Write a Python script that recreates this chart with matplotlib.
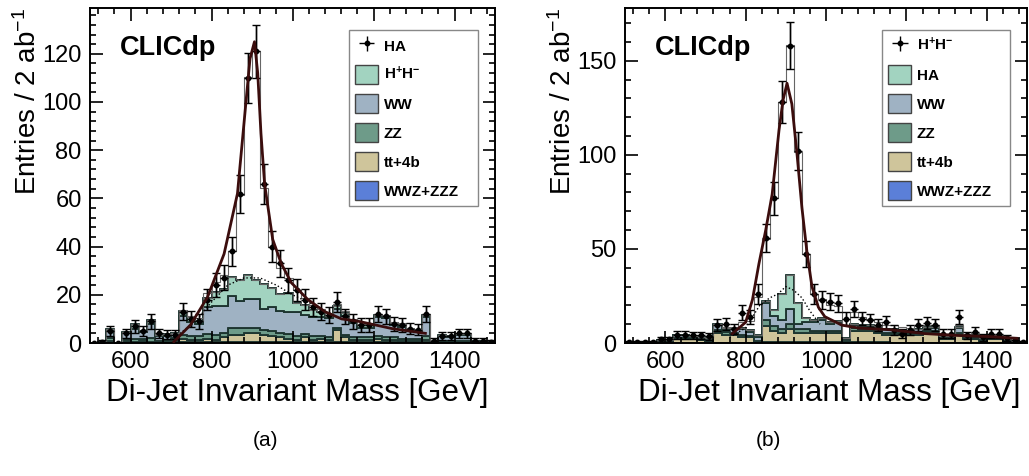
import matplotlib
matplotlib.use('Agg')
import matplotlib.pyplot as plt
import numpy as np
from matplotlib.patches import Patch

plt.rcParams['font.family'] = ['Liberation Sans', 'DejaVu Sans']
plt.rcParams['mathtext.default'] = 'regular'

# 20 GeV bins from 500 to 1500
edges = np.arange(500, 1501, 20)

# ---- panel (a): HA signal ----
a_data = [0, 0.5, 5, 0, 4, 7, 5, 9, 4, 3.5, 3.5, 13, 10, 9, 18, 24, 27, 38, 62, 110,
          121, 66, 40, 33, 26, 22, 18, 15, 13, 11.5, 17, 11, 9, 7.5, 7.5, 12, 11, 8, 7.5, 6,
          5.5, 12, 1, 3, 3, 4, 4, 1, 1, 0.5]
a_sig = [0, 0, 0, 0, 0, 0, 0, 0, 0, 0, 0, 0.3, 0.5, 1, 2, 4, 6, 11, 35, 82,
         95, 40, 17, 11, 6, 5, 3, 2, 1.5, 1, 1, 0.8, 0.6, 0.5, 0.5, 0.4, 0.3, 0.3, 0.3, 0.2,
         0.2, 0.2, 0.1, 0.1, 0.1, 0.1, 0.1, 0, 0, 0]
a_wwz = [0, 0, 0.2, 0, 0.2, 0.2, 0.2, 0.2, 0.1, 0.1, 0.2, 0.3, 0.3, 0.3, 0.3, 0.3, 0.3, 0.3, 0.3, 0.3,
         0.3, 0.3, 0.3, 0.3, 0.3, 0.3, 0.3, 0.3, 0.3, 0.3, 0.3, 0.3, 0.3, 0.3, 0.3, 0.3, 0.3, 0.3, 0.3, 0.3,
         0.3, 0.3, 0, 0.1, 0.1, 0.1, 0.1, 0, 0, 0]
a_tt = [0, 0, 0.5, 0, 0.5, 0.3, 0.5, 0.3, 0.2, 0.5, 0.8, 1.5, 1, 1, 1.5, 1, 2, 3, 3, 4,
        4, 3, 2.5, 2, 1.5, 1, 2, 1, 1.5, 1, 5, 2, 1, 1, 1, 1.5, 1, 1, 0.5, 0.5,
        0.5, 1, 0, 0.3, 0.3, 0.3, 0.3, 0, 0, 0]
a_zz = [0, 0, 1.5, 0, 0.8, 1, 0.8, 1.5, 0.5, 0.5, 1, 1.5, 1.5, 1.5, 2, 2, 2, 3, 3, 2,
        2, 2, 2, 2, 2, 1.5, 1.5, 1.5, 1, 1, 1, 1, 1, 1, 1, 1, 1, 1, 1, 1,
        1, 1.5, 0.3, 0.5, 0.5, 0.5, 0.5, 0.2, 0.2, 0.1]
a_ww = [0, 0.5, 3, 0, 2.5, 4.5, 3, 6, 2, 2, 2, 8, 6, 5, 11, 12, 11, 13, 11, 12,
        12, 9, 10, 9, 9, 10, 8, 8, 8, 8, 8, 8, 6, 4, 4, 8, 8, 5, 5, 3.5,
        3, 8, 0.5, 2, 1.5, 2.5, 2.5, 0.6, 0.6, 0.4]
a_hh = [0, 0, 0.5, 0, 0.5, 2, 0.5, 1.5, 0.5, 0.5, 0.3, 2, 2, 1.5, 4, 6, 7, 8, 9, 10,
        8, 10, 8, 7, 8, 4, 4, 3, 2, 1, 1, 1, 1, 1, 1, 1, 1, 1, 1, 0.7,
        0.7, 1, 0.2, 0.3, 0.5, 0.5, 0.5, 0.2, 0.2, 0.1]
a_fit_x = [707, 748, 790, 831, 864, 885, 895, 906, 914, 922, 931, 951, 972, 997, 1038, 1080,
           1121, 1163, 1245, 1328]
a_fit_y = [0.5, 7.5, 19, 37, 62, 100, 118, 125, 112, 87, 66, 43, 33, 25, 18, 13, 10, 9, 6, 4]
a_bkg_x = [715, 760, 800, 840, 880, 920, 960, 1000, 1050]
a_bkg_y = [3, 9, 17, 24, 27, 27, 24, 20, 16]

# ---- panel (b): H+H- signal ----
b_data = [0.5, 0.5, 0.5, 0.5, 2, 2, 4.5, 4.5, 4, 4, 3.5, 9.5, 10, 7.5, 16, 14, 26, 56, 77, 128,
          158, 102, 47.5, 26, 23, 22, 21, 13, 18, 13, 12, 9.5, 11, 7, 5, 7, 9.5, 10.5, 9.5, 5,
          5, 14, 4, 6, 3, 5, 5, 2.5, 1.5, 0.5]
b_sig = [0, 0, 0, 0, 0, 0, 0, 0, 0, 0, 0, 0, 0.5, 1, 3, 5, 20, 33, 60, 102,
         122, 80, 34, 14, 10, 9, 8, 7, 6, 4, 3, 2.5, 2, 2, 1.5, 1.5, 1.5, 1.2, 1, 1,
         1, 1, 0.8, 0.8, 0.6, 0.6, 0.5, 0.4, 0.3, 0.2]
b_wwz = [0, 0, 0, 0, 0, 0, 0.1, 0.1, 0.1, 0.1, 0.1, 0.2, 0.2, 0.2, 0.2, 0.2, 0.2, 0.3, 0.3, 0.3,
         0.3, 0.3, 0.3, 0.3, 0.3, 0.3, 0.3, 0.3, 0.3, 0.3, 0.3, 0.3, 0.3, 0.2, 0.2, 0.2, 0.2, 0.2, 0.2, 0.2,
         0.2, 0.2, 0.2, 0.1, 0.1, 0.1, 0.1, 0.1, 0, 0]
b_tt = [0.3, 0.3, 0.3, 0.3, 1, 0.8, 2, 2, 2, 1.5, 1, 5, 4, 4, 3, 3, 0.5, 9, 6, 5,
        7, 5, 5, 5, 5, 5, 5, 0.5, 6, 6, 6, 5, 4, 4, 4, 4, 4, 5, 5, 2,
        2, 4, 2, 2, 1, 2, 2, 1, 0.5, 0.2]
b_zz = [0, 0, 0, 0, 0.3, 0.3, 0.5, 0.5, 0.5, 0.5, 0.3, 1.5, 1.5, 1, 1, 0.5, 0.5, 3, 3, 2,
        3, 2, 2, 1, 1, 1, 1, 0.5, 1.5, 1, 1, 1, 1, 1, 1, 1, 1, 1, 1, 0.5,
        0.5, 1, 0.5, 0.5, 0.5, 0.5, 0.5, 0.3, 0.2, 0.1]
b_ww = [0.2, 0.2, 0.2, 0.2, 0.5, 0.5, 1.5, 1.5, 1, 1, 1, 3, 2, 2, 3, 2, 2, 9, 5, 5,
        8, 3, 4, 5, 6, 4, 5, 1, 2, 2, 2, 2, 2, 2, 1.5, 1, 2, 2, 2, 1,
        1, 3, 1, 1.5, 1, 1, 1, 0.5, 0.5, 0.2]
b_ha = [0, 0, 0, 0, 0, 0, 0.2, 0.3, 0.2, 0.2, 0.1, 0.5, 0.5, 0.5, 1, 1, 1, 1, 3, 14,
        18, 11, 2, 1, 1, 1, 0.5, 0.5, 0.5, 0.5, 0.5, 0.5, 0.3, 0.3, 0.3, 0.3, 0.3, 0.3, 0.3, 0.2,
        0.2, 0.3, 0.2, 0.2, 0.2, 0.2, 0.2, 0.1, 0.1, 0.1]
b_fit_x = [767, 800, 817, 833, 850, 866, 883, 893, 903, 915, 928, 940, 953, 965, 981, 997,
           1039, 1080, 1162, 1245, 1327, 1409, 1475]
b_fit_y = [5, 11, 23, 42, 60, 79, 113, 129, 138, 127, 100, 72, 47.5, 30, 19, 14, 9.5, 8, 7,
           5, 4, 3.4, 2.5]
b_bkg_x = [760, 800, 835, 860, 880, 900, 920, 940, 960, 985]
b_bkg_y = [3, 8, 20, 24, 26, 30, 28, 24, 17, 10]

c_mint = '#a2d3c0'
c_ww = '#9fb2c3'
c_zz = '#6e9b89'
c_tt = '#cfc59b'
c_wwz = '#5b7fd8'
c_edge = '#1d3530'


def draw_panel(ax, data, sig, layers, fit_x, fit_y, bkg_x, bkg_y, sig_name, hist_name, ymax,
               ymajor, yminor):
    base = np.zeros(len(edges) - 1)
    # stack from the bottom: WWZ+ZZZ, tt+4b, ZZ, WW, other Higgs
    for vals, col in layers:
        top = base + np.array(vals)
        ax.stairs(top, edges, baseline=base, fill=True, facecolor=col,
                  edgecolor=c_edge, linewidth=1.1)
        ax.stairs(top, edges, baseline=base, fill=False, color=c_edge, linewidth=1.1)
        base = top
    ax.stairs(base + np.array(sig), edges, baseline=base, fill=False, color='#666666', linewidth=0.8)

    centers = 0.5 * (edges[:-1] + edges[1:])
    d = np.array(data)
    err = np.sqrt(d)
    h = ax.errorbar(centers, d, xerr=10, yerr=err, fmt='o', ms=3.2, color='black',
                    ecolor='black', elinewidth=1.0, capsize=0, zorder=5)
    ax.errorbar(centers, d, yerr=err, fmt='none', ecolor='black', elinewidth=1.0,
                capsize=3, capthick=1.0, zorder=5)
    ax.plot(fit_x, fit_y, color='#3b0d0d', lw=2.0, zorder=6)
    ax.plot(bkg_x, bkg_y, color='black', lw=1.0, ls=':', zorder=4)

    ax.set_xlim(500, 1500)
    ax.set_ylim(0, ymax)
    ax.set_xticks([600, 800, 1000, 1200, 1400])
    ax.set_xticks(np.arange(520, 1500, 40), minor=True)
    ax.set_yticks(np.arange(0, ymax, ymajor))
    ax.set_yticks(np.arange(0, ymax, yminor), minor=True)
    ax.tick_params(which='both', direction='in', top=True, right=True, width=1.2,
                   labelsize=17, pad=6)
    ax.tick_params(which='major', length=9)
    ax.tick_params(which='minor', length=4.5)
    for s in ax.spines.values():
        s.set_linewidth(1.4)
    # ROOT style: titles pushed to the end of the axis
    ax.set_xlabel('Di-Jet Invariant Mass [GeV]', fontsize=22.5, labelpad=3, loc='right')
    ax.xaxis.label.set_x(0.983)
    ax.set_ylabel('Entries / 2 ab$^{-1}$', fontsize=20, labelpad=0, loc='top')
    ax.text(0.074, 0.88, 'CLICdp', transform=ax.transAxes, fontsize=19.5,
            fontweight='bold', va='center', ha='left')

    handles = [h] + [Patch(facecolor=col, edgecolor='#444444', linewidth=1.0)
                     for col in [c_mint, c_ww, c_zz, c_tt, c_wwz]]
    labels = [sig_name, hist_name, 'WW', 'ZZ', 'tt+4b', 'WWZ+ZZZ']
    leg = ax.legend(handles, labels, loc='upper left',
                    bbox_to_anchor=(0.64, 0.403, 0.318, 0.531), mode='expand',
                    prop={'weight': 'bold', 'size': 11}, frameon=True, fancybox=False,
                    edgecolor='#888888', framealpha=1, borderpad=0.4,
                    labelspacing=0.68, handlelength=1.5, handleheight=1.5,
                    handletextpad=0.35, borderaxespad=0)
    leg.get_frame().set_linewidth(1.0)


fig = plt.figure(figsize=(10.29, 4.76), dpi=100)
ax1 = fig.add_axes([0.0875, 0.2794, 0.3936, 0.7038])
ax2 = fig.add_axes([0.6074, 0.2794, 0.3907, 0.7038])

draw_panel(ax1, a_data, a_sig,
           [(a_wwz, c_wwz), (a_tt, c_tt), (a_zz, c_zz), (a_ww, c_ww), (a_hh, c_mint)],
           a_fit_x, a_fit_y, a_bkg_x, a_bkg_y, 'HA', 'H$^{+}$H$^{-}$', 139, 20, 4)
draw_panel(ax2, b_data, b_sig,
           [(b_wwz, c_wwz), (b_tt, c_tt), (b_zz, c_zz), (b_ww, c_ww), (b_ha, c_mint)],
           b_fit_x, b_fit_y, b_bkg_x, b_bkg_y, 'H$^{+}$H$^{-}$', 'HA', 178, 50, 10)

fig.text(265 / 1029, 1 - 440 / 476, '(a)', fontsize=15, ha='center', va='center')
fig.text(768 / 1029, 1 - 440 / 476, '(b)', fontsize=15, ha='center', va='center')

fig.savefig('out.png', dpi=100)
